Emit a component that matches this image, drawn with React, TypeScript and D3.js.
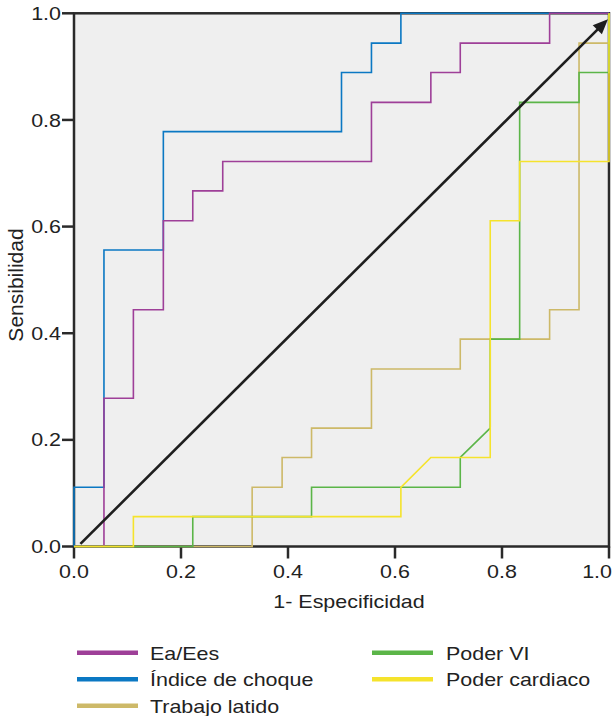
import React from "react";
import * as d3 from "d3";

// ROC curve corner points (1 - especificidad, sensibilidad)
const eaEesX = [0, 0.056, 0.056, 0.111, 0.111, 0.167, 0.167, 0.222, 0.222, 0.278, 0.278, 0.556, 0.556, 0.667, 0.667, 0.722, 0.722, 0.889, 0.889, 1];
const eaEesY = [0, 0, 0.278, 0.278, 0.444, 0.444, 0.611, 0.611, 0.667, 0.667, 0.722, 0.722, 0.833, 0.833, 0.889, 0.889, 0.944, 0.944, 1, 1];

const indiceX = [0, 0, 0.056, 0.056, 0.167, 0.167, 0.5, 0.5, 0.556, 0.556, 0.611, 0.611, 1];
const indiceY = [0, 0.111, 0.111, 0.556, 0.556, 0.778, 0.778, 0.889, 0.889, 0.944, 0.944, 1, 1];

const trabajoX = [0, 0.333, 0.333, 0.389, 0.389, 0.444, 0.444, 0.556, 0.556, 0.722, 0.722, 0.889, 0.889, 0.944, 0.944, 1, 1];
const trabajoY = [0, 0, 0.111, 0.111, 0.167, 0.167, 0.222, 0.222, 0.333, 0.333, 0.389, 0.389, 0.444, 0.444, 0.944, 0.944, 1];

const poderVIX = [0, 0.222, 0.222, 0.444, 0.444, 0.722, 0.722, 0.778, 0.778, 0.833, 0.833, 0.944, 0.944, 1, 1];
const poderVIY = [0, 0, 0.056, 0.056, 0.111, 0.111, 0.167, 0.222, 0.389, 0.389, 0.833, 0.833, 0.889, 0.889, 1];

const cardiacoX = [0, 0.111, 0.111, 0.611, 0.611, 0.667, 0.778, 0.778, 0.833, 0.833, 1, 1];
const cardiacoY = [0, 0, 0.056, 0.056, 0.111, 0.167, 0.167, 0.611, 0.611, 0.722, 0.722, 1];

const diagX = [0.012, 0.998];
const diagY = [0.005, 0.989];

const ticks = [0, 0.2, 0.4, 0.6, 0.8, 1.0];

const seriesNames = ["Índice de choque", "Ea/Ees", "Trabajo latido", "Poder VI", "Poder cardiaco"];
const seriesColors = ["#0b78c3", "#9e3f98", "#cdb968", "#5bb548", "#f5e32c"];

const legendLeft = ["Ea/Ees", "Índice de choque", "Trabajo latido"];
const legendRight = ["Poder VI", "Poder cardiaco"];

const FONT = "'Liberation Sans', Arial, Helvetica, sans-serif";
const SX = 1.16;

export default function App() {
  const L = 74, R = 609, T = 13.3, B = 546.5;
  const x = d3.scaleLinear().domain([0, 1]).range([L, R]);
  const y = d3.scaleLinear().domain([0, 1]).range([B, T]);
  const line = d3.line<[number, number]>().x(d => x(d[0])).y(d => y(d[1]));

  const seriesData: [number, number][][] = [
    indiceX.map((v, i) => [v, indiceY[i]]),
    eaEesX.map((v, i) => [v, eaEesY[i]]),
    trabajoX.map((v, i) => [v, trabajoY[i]]),
    poderVIX.map((v, i) => [v, poderVIY[i]]),
    cardiacoX.map((v, i) => [v, cardiacoY[i]]),
  ];
  const colorOf = (name: string) => seriesColors[seriesNames.indexOf(name)];

  // diagonal arrow
  const x0 = x(diagX[0]), y0 = y(diagY[0]), x1 = x(diagX[1]), y1 = y(diagY[1]);
  const ang = Math.atan2(y1 - y0, x1 - x0);
  const headLen = 15, headW = 6.5;
  const bx = x1 - headLen * Math.cos(ang), by = y1 - headLen * Math.sin(ang);
  const p1 = [bx + headW * Math.sin(ang), by - headW * Math.cos(ang)];
  const p2 = [bx - headW * Math.sin(ang), by + headW * Math.cos(ang)];

  const axisColor = "#2a2a2a";

  return (
    <svg width={612} height={716} style={{ position: "absolute", left: 0, top: 0, background: "#fff" }} fontFamily={FONT}>
      <rect x={L} y={T} width={R - L} height={B - T} fill="#efefef" />
      {/* frame */}
      <rect x={L} y={T} width={R - L} height={B - T} fill="none" stroke={axisColor} strokeWidth={2.5} />
      {/* y ticks */}
      {ticks.map(t => (
        <g key={"y" + t}>
          <line x1={L - 12} x2={L} y1={y(t)} y2={y(t)} stroke={axisColor} strokeWidth={2.5} />
          <text transform={`translate(${L - 13},${y(t) + 6.6}) scale(${SX},1)`} textAnchor="end" fontSize={18.5} fill="#222">
            {t.toFixed(1)}
          </text>
        </g>
      ))}
      {/* x ticks */}
      {ticks.map((t, i) => {
        const last = i === ticks.length - 1;
        return (
          <g key={"x" + t}>
            <line x1={x(t)} x2={x(t)} y1={B} y2={B + 12} stroke={axisColor} strokeWidth={2.5} />
            <text transform={`translate(${last ? 612 : x(t)},${578}) scale(${SX},1)`} textAnchor={last ? "end" : "middle"} fontSize={18.5} fill="#222">
              {t.toFixed(1)}
            </text>
          </g>
        );
      })}
      {/* series */}
      {seriesData.map((d, i) => (
        <path key={seriesNames[i]} d={line(d) || ""} fill="none" stroke={seriesColors[i]} strokeWidth={1.6} strokeLinejoin="miter" />
      ))}
      {/* diagonal arrow */}
      <line x1={x0} y1={y0} x2={bx + 2 * Math.cos(ang)} y2={by + 2 * Math.sin(ang)} stroke="#1e1e1e" strokeWidth={2.6} />
      <polygon points={`${x1},${y1} ${p1[0]},${p1[1]} ${p2[0]},${p2[1]}`} fill="#1e1e1e" />
      {/* axis titles */}
      <text transform={`translate(349,608) scale(${SX},1)`} textAnchor="middle" fontSize={18.5} fill="#222">
        1- Especificidad
      </text>
      <text transform={`translate(23.3,285) rotate(-90)`} textAnchor="middle" fontSize={21} fill="#222">
        Sensibilidad
      </text>
      {/* legend */}
      {legendLeft.map((name, i) => (
        <g key={name}>
          <line x1={77} x2={138} y1={652.7 + i * 26.5} y2={652.7 + i * 26.5} stroke={colorOf(name)} strokeWidth={4.5} />
          <text transform={`translate(150,${659.5 + i * 26.5}) scale(${SX},1)`} fontSize={18.5} fill="#222">{name}</text>
        </g>
      ))}
      {legendRight.map((name, i) => (
        <g key={name}>
          <line x1={372} x2={433} y1={652.7 + i * 26.5} y2={652.7 + i * 26.5} stroke={colorOf(name)} strokeWidth={4.5} />
          <text transform={`translate(446,${659.5 + i * 26.5}) scale(${SX},1)`} fontSize={18.5} fill="#222">{name}</text>
        </g>
      ))}
    </svg>
  );
}
